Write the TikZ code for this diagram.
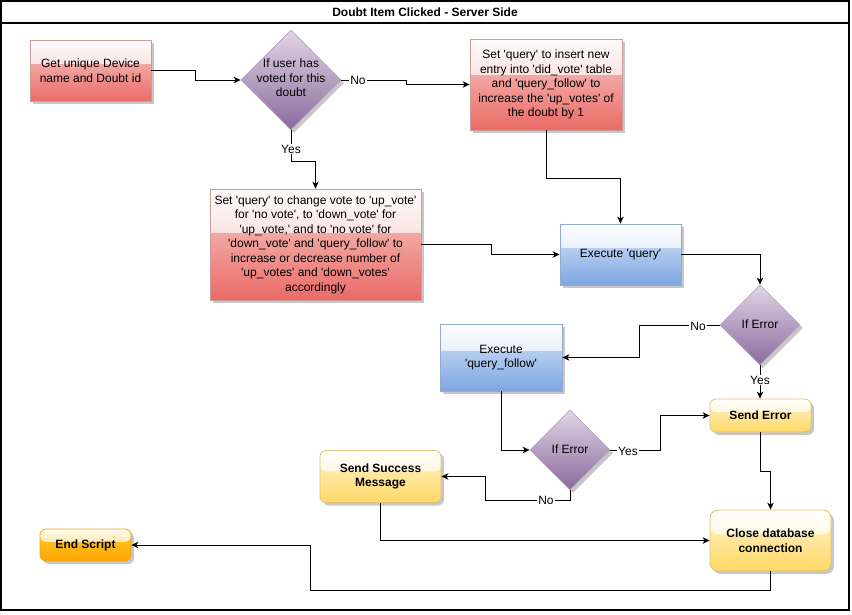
\documentclass[tikz,border=0pt]{standalone}
\usepackage{fontspec}
\setmainfont{Liberation Sans}[Ligatures=TeXOff]
\usetikzlibrary{arrows.meta,shapes.geometric,shadows,fadings,calc}

% glossy highlight over the upper part of the boxes
\tikzfading[name=glassfade, top color=transparent!10, bottom color=transparent!63]

\definecolor{redtop}{HTML}{F8CECC}
\definecolor{redbot}{HTML}{EA6B66}
\definecolor{redline}{HTML}{CC9C9A}
\definecolor{bluetop}{HTML}{DAE8FC}
\definecolor{bluebot}{HTML}{7EA6E0}
\definecolor{blueline}{HTML}{94ABD0}
\definecolor{purtop}{HTML}{E1D5E7}
\definecolor{purbot}{HTML}{8A6A9C}
\definecolor{purline}{HTML}{B8A4C4}
\definecolor{yeltop}{HTML}{FFF2CC}
\definecolor{yelbot}{HTML}{FFD966}
\definecolor{yelline}{HTML}{DEC27A}
\definecolor{orgtop}{HTML}{FFCD28}
\definecolor{orgbot}{HTML}{FFA500}
\definecolor{orgline}{HTML}{E0A830}

\begin{document}
\begin{tikzpicture}[x=1pt,y=-1pt,
  every node/.style={font=\fontsize{12pt}{14.5pt}\selectfont},
  shadowed/.style={drop shadow={shadow xshift=3pt,shadow yshift=-3pt,opacity=0.22,fill=black}},
  glass/.style={path picture={\fill[white,path fading=glassfade]
      (path picture bounding box.north west) rectangle
      ($(path picture bounding box.north east)!0.4!(path picture bounding box.south east)$);}},
  base/.style={shape=rectangle,draw,line width=0.8pt,inner sep=0pt,align=center,shadowed,glass},
  redbox/.style={base,draw=redline,top color=redtop,bottom color=redbot},
  bluebox/.style={base,draw=blueline,top color=bluetop,bottom color=bluebot},
  yelbox/.style={base,rounded corners=6pt,draw=yelline,top color=yeltop,bottom color=yelbot,font=\fontsize{12pt}{14.5pt}\selectfont\bfseries},
  orgbox/.style={base,rounded corners=6pt,draw=orgline,top color=orgtop,bottom color=orgbot,font=\fontsize{12pt}{14.5pt}\selectfont\bfseries},
  decision/.style={shape=diamond,draw=purline,line width=0.8pt,inner sep=0pt,shadowed,top color=purtop,bottom color=purbot},
  flow/.style={draw=black,line width=1pt,-{Stealth[length=7pt,width=6.5pt,inset=2pt]}},
  tag/.style={fill=white,inner sep=1pt}
]
\useasboundingbox (0,0) rectangle (852,614);

% frame and title bar
\draw[line width=1.2pt] (1,1) rectangle (849,610);
\draw[line width=1.2pt] (1,23) -- (849,23);
\node[font=\fontsize{12pt}{14.5pt}\selectfont\bfseries] (title) at (425,12) {Doubt Item Clicked - Server Side};

% steps
\node[redbox,minimum width=121pt,minimum height=61pt] (getid) at (90.5,70.5)
  {Get unique Device\\name and Doubt id};
\node[decision,minimum width=100pt,minimum height=100pt] (voted) at (291,80) {};
\node[align=center] (votedtxt) at (291,78) {If user has\\voted for this\\doubt};
\node[redbox,minimum width=152pt,minimum height=91pt] (insert) at (546,84.5)
  {Set 'query' to insert new\\entry into 'did\_vote' table\\and 'query\_follow' to\\increase the 'up\_votes' of\\the doubt by 1};
\node[redbox,minimum width=211pt,minimum height=111pt] (change) at (315.5,244.5)
  {Set 'query' to change vote to 'up\_vote'\\for 'no vote', to 'down\_vote' for\\'up\_vote,' and to 'no vote' for\\'down\_vote' and 'query\_follow' to\\increase or decrease number of\\'up\_votes' and 'down\_votes'\\accordingly};
\node[bluebox,minimum width=121pt,minimum height=61pt] (execq) at (620.5,254.5) {Execute 'query'};
\node[decision,minimum width=80pt,minimum height=80pt] (err1) at (760,325) {};
\node (err1txt) at (760,324) {If Error};
\node[bluebox,minimum width=122pt,minimum height=67pt] (execf) at (501,357.5) {Execute\\'query\_follow'};
\node[yelbox,minimum width=101pt,minimum height=33pt] (senderr) at (760.5,415.5) {Send Error};
\node[decision,minimum width=80pt,minimum height=80pt] (err2) at (570,450) {};
\node (err2txt) at (570,449) {If Error};
\node[yelbox,minimum width=121pt,minimum height=52pt] (success) at (380.5,476.5) {Send Success\\Message};
\node[yelbox,minimum width=121pt,minimum height=61pt,rounded corners=8pt] (closedb) at (770.5,540.5) {Close database\\connection};
\node[orgbox,minimum width=91pt,minimum height=32pt] (endscript) at (85.5,545) {End Script};

% connectors
\draw[flow] (getid.east) -- ++(44,0) |- (voted.west);
\draw[flow] (voted.east) -- ++(65,0) |- (insert.west);
\node[tag] (no1) at (358,80) {No};
\draw[flow] (voted.south) -- ++(0,31) -| (change.north);
\node[tag] (yes1) at (291,149) {Yes};
\draw[flow] (insert.south) -- ++(0,48) -| (execq.north);
\draw[flow] (change.east) -- ++(70,0) |- (execq.west);
\draw[flow] (execq.east) -| (err1.north);
\draw[flow] (err1.west) -- ++(-80,0) |- (execf.east);
\node[tag] (no2) at (698,326) {No};
\draw[flow] (err1.south) -- (err1.south |- senderr.north);
\node[tag] (yes2) at (760,380) {Yes};
\draw[flow] (execf.south) |- (err2.west);
\draw[flow] (err2.east) -- ++(50,0) |- (senderr.west);
\node[tag] (yes3) at (628,451) {Yes};
\draw[flow] (err2.south) -- ++(0,10) -- ++(-85,0) |- (success.east);
\node[tag] (no3) at (546,500) {No};
\draw[flow] (senderr.south) -- ++(0,39) -| (closedb.north);
\draw[flow] (success.south) |- (closedb.west);
\draw[flow] (closedb.south) -- ++(0,19.5) -- ++(-460.5,0) |- (endscript.east);
\end{tikzpicture}
\end{document}
